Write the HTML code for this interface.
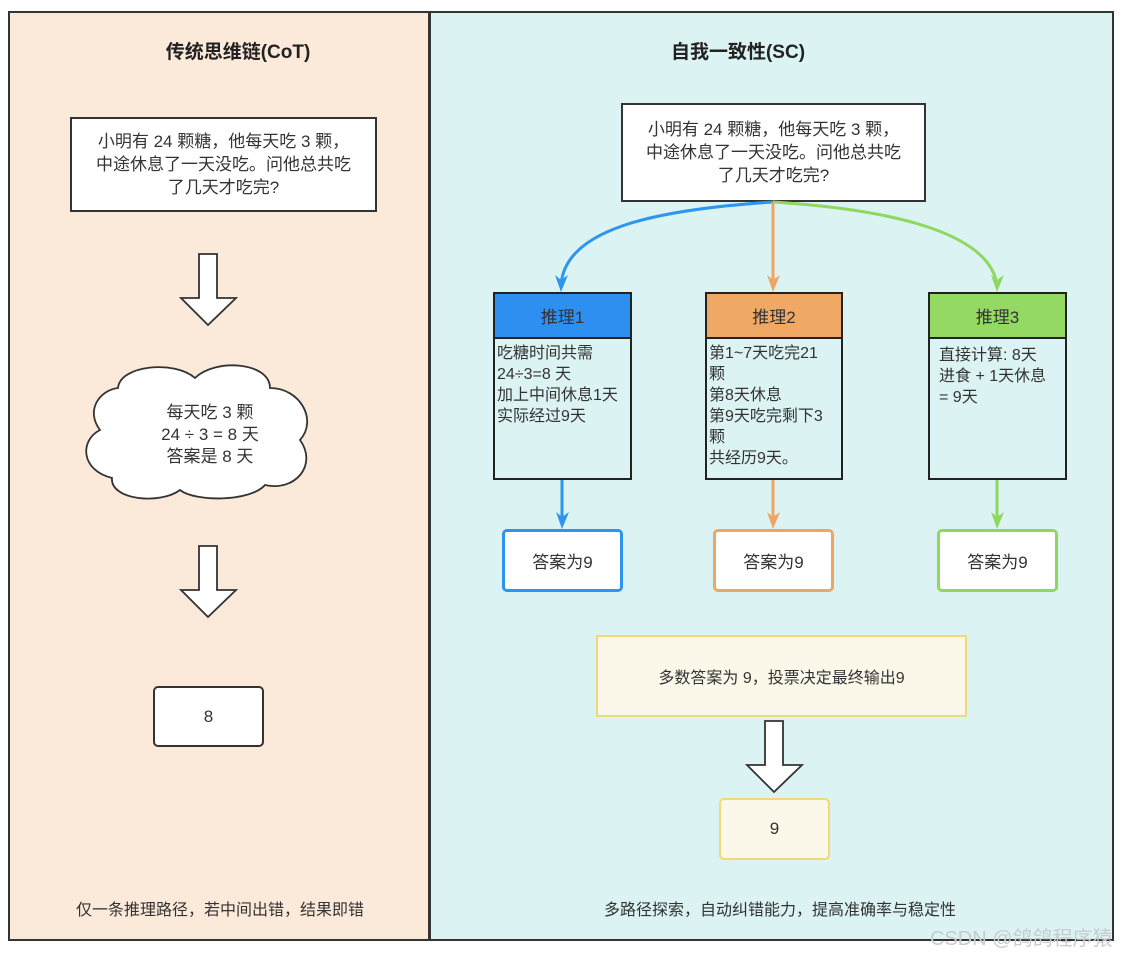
<!DOCTYPE html>
<html><head><meta charset="utf-8"><style>
body{margin:0;width:1126px;height:955px;background:#fff;position:relative;overflow:hidden;font-family:"Liberation Sans","Noto Sans CJK SC",sans-serif;color:#333}
.a{position:absolute;box-sizing:border-box}
.c{display:flex;align-items:center;justify-content:center;text-align:center}
.t{font-weight:bold;font-size:19px;color:#222}
.q{background:#fff;border:2px solid #333;font-size:17px;line-height:23px}
.hd{border:2px solid #222;font-size:17px}
.bd{border:2px solid #222;border-top:none;font-size:16px;line-height:21px;padding:4px 2px;text-align:left}
.ans{background:#fff;border:3px solid;border-radius:5px;font-size:17px}
.ft{font-size:16px;color:#333}
</style></head><body>
<div class="a" style="left:8px;top:11px;width:422px;height:930px;background:#fbe9da;border:2px solid #333"></div>
<div class="a" style="left:429px;top:11px;width:685px;height:930px;background:#dbf3f2;border:2px solid #333"></div>
<div class="a c t" style="left:100px;top:36px;width:276px;height:28px">传统思维链(CoT)</div>
<div class="a c t" style="left:600px;top:36px;width:276px;height:28px">自我一致性(SC)</div>
<div class="a c q" style="left:70px;top:117px;width:307px;height:95px">小明有 24 颗糖，他每天吃 3 颗，<br>中途休息了一天没吃。问他总共吃<br>了几天才吃完?</div>
<div class="a c q" style="left:621px;top:103px;width:305px;height:99px">小明有 24 颗糖，他每天吃 3 颗，<br>中途休息了一天没吃。问他总共吃<br>了几天才吃完?</div>
<svg class="a" style="left:0;top:0" width="1126" height="955">
<g fill="#fff" stroke="#333" stroke-width="1.8">
<polygon points="199,254 217,254 217,298 236,298 208,325 181,298 199,298"/>
<polygon points="199,546 217,546 217,590 236,590 208,617 181,590 199,590"/>
<polygon points="765,721 783,721 783,765 802,765 774,792 747,765 765,765"/>
<path d="M118,388 C120,365 175,360 195,378 C215,358 270,362 270,388 C300,388 318,420 300,440 C318,465 295,492 265,485 C250,502 195,502 180,490 C160,505 110,500 112,478 C80,470 80,440 100,430 C85,410 100,390 118,388 Z"/>
</g>
<g fill="none" stroke-width="3">
<path d="M773,202 C650,210 565,230 561,285" stroke="#2d95f0"/>
<path d="M773,202 L773,285" stroke="#f0a663"/>
<path d="M773,202 C900,210 990,235 997,285" stroke="#8fd85e"/>
<path d="M562,479 L562,520" stroke="#2d95f0"/>
<path d="M773,479 L773,520" stroke="#f0a663"/>
<path d="M997,479 L997,520" stroke="#8fd85e"/>
</g>
<polygon points="555,275 561,292 568,275 561,280" fill="#2d95f0"/>
<polygon points="767,275 773,292 780,275 773,280" fill="#f0a663"/>
<polygon points="991,275 997,292 1004,275 997,280" fill="#8fd85e"/>
<polygon points="556,512 562,529 569,512 562,517" fill="#2d95f0"/>
<polygon points="767,512 773,529 780,512 773,517" fill="#f0a663"/>
<polygon points="991,512 997,529 1004,512 997,517" fill="#8fd85e"/>
</svg>
<div class="a c" style="left:90px;top:400px;width:240px;height:70px;font-size:17px;line-height:22px">每天吃 3 颗<br>24 ÷ 3 = 8 天<br>答案是 8 天</div>
<div class="a c" style="left:153px;top:686px;width:111px;height:61px;background:#fff;border:2px solid #333;border-radius:5px;font-size:17px">8</div>
<div class="a c ft" style="left:10px;top:896px;width:420px;height:24px">仅一条推理路径，若中间出错，结果即错</div>
<div class="a c hd" style="left:493px;top:292px;width:139px;height:47px;background:#2d8ff0">推理1</div>
<div class="a bd" style="left:493px;top:339px;width:139px;height:141px">吃糖时间共需<br>24÷3=8 天<br>加上中间休息1天<br>实际经过9天</div>
<div class="a c hd" style="left:705px;top:292px;width:138px;height:47px;background:#f0a965">推理2</div>
<div class="a bd" style="left:705px;top:339px;width:138px;height:141px">第1~7天吃完21<br>颗<br>第8天休息<br>第9天吃完剩下3<br>颗<br>共经历9天。</div>
<div class="a c hd" style="left:928px;top:292px;width:139px;height:47px;background:#93d964">推理3</div>
<div class="a bd" style="left:928px;top:339px;width:139px;height:141px;padding-left:9px;padding-top:6px">直接计算: 8天<br>进食 + 1天休息<br>= 9天</div>
<div class="a c ans" style="left:502px;top:529px;width:121px;height:63px;border-color:#2d95f0">答案为9</div>
<div class="a c ans" style="left:713px;top:529px;width:121px;height:63px;border-color:#f0a663">答案为9</div>
<div class="a c ans" style="left:937px;top:529px;width:121px;height:63px;border-color:#8fd85e">答案为9</div>
<div class="a c" style="left:596px;top:635px;width:371px;height:82px;background:#fbf8e9;border:2px solid #f0d97a;font-size:16px">多数答案为 9，投票决定最终输出9</div>
<div class="a c" style="left:719px;top:798px;width:111px;height:62px;background:#fbf8e9;border:2px solid #f0d97a;border-radius:5px;font-size:17px">9</div>
<div class="a c ft" style="left:560px;top:896px;width:440px;height:24px">多路径探索，自动纠错能力，提高准确率与稳定性</div>
<div class="a" style="left:930px;top:922px;font-size:20px;color:#c8cccc;white-space:nowrap">CSDN @鸽鸽程序猿</div>
</body></html>
